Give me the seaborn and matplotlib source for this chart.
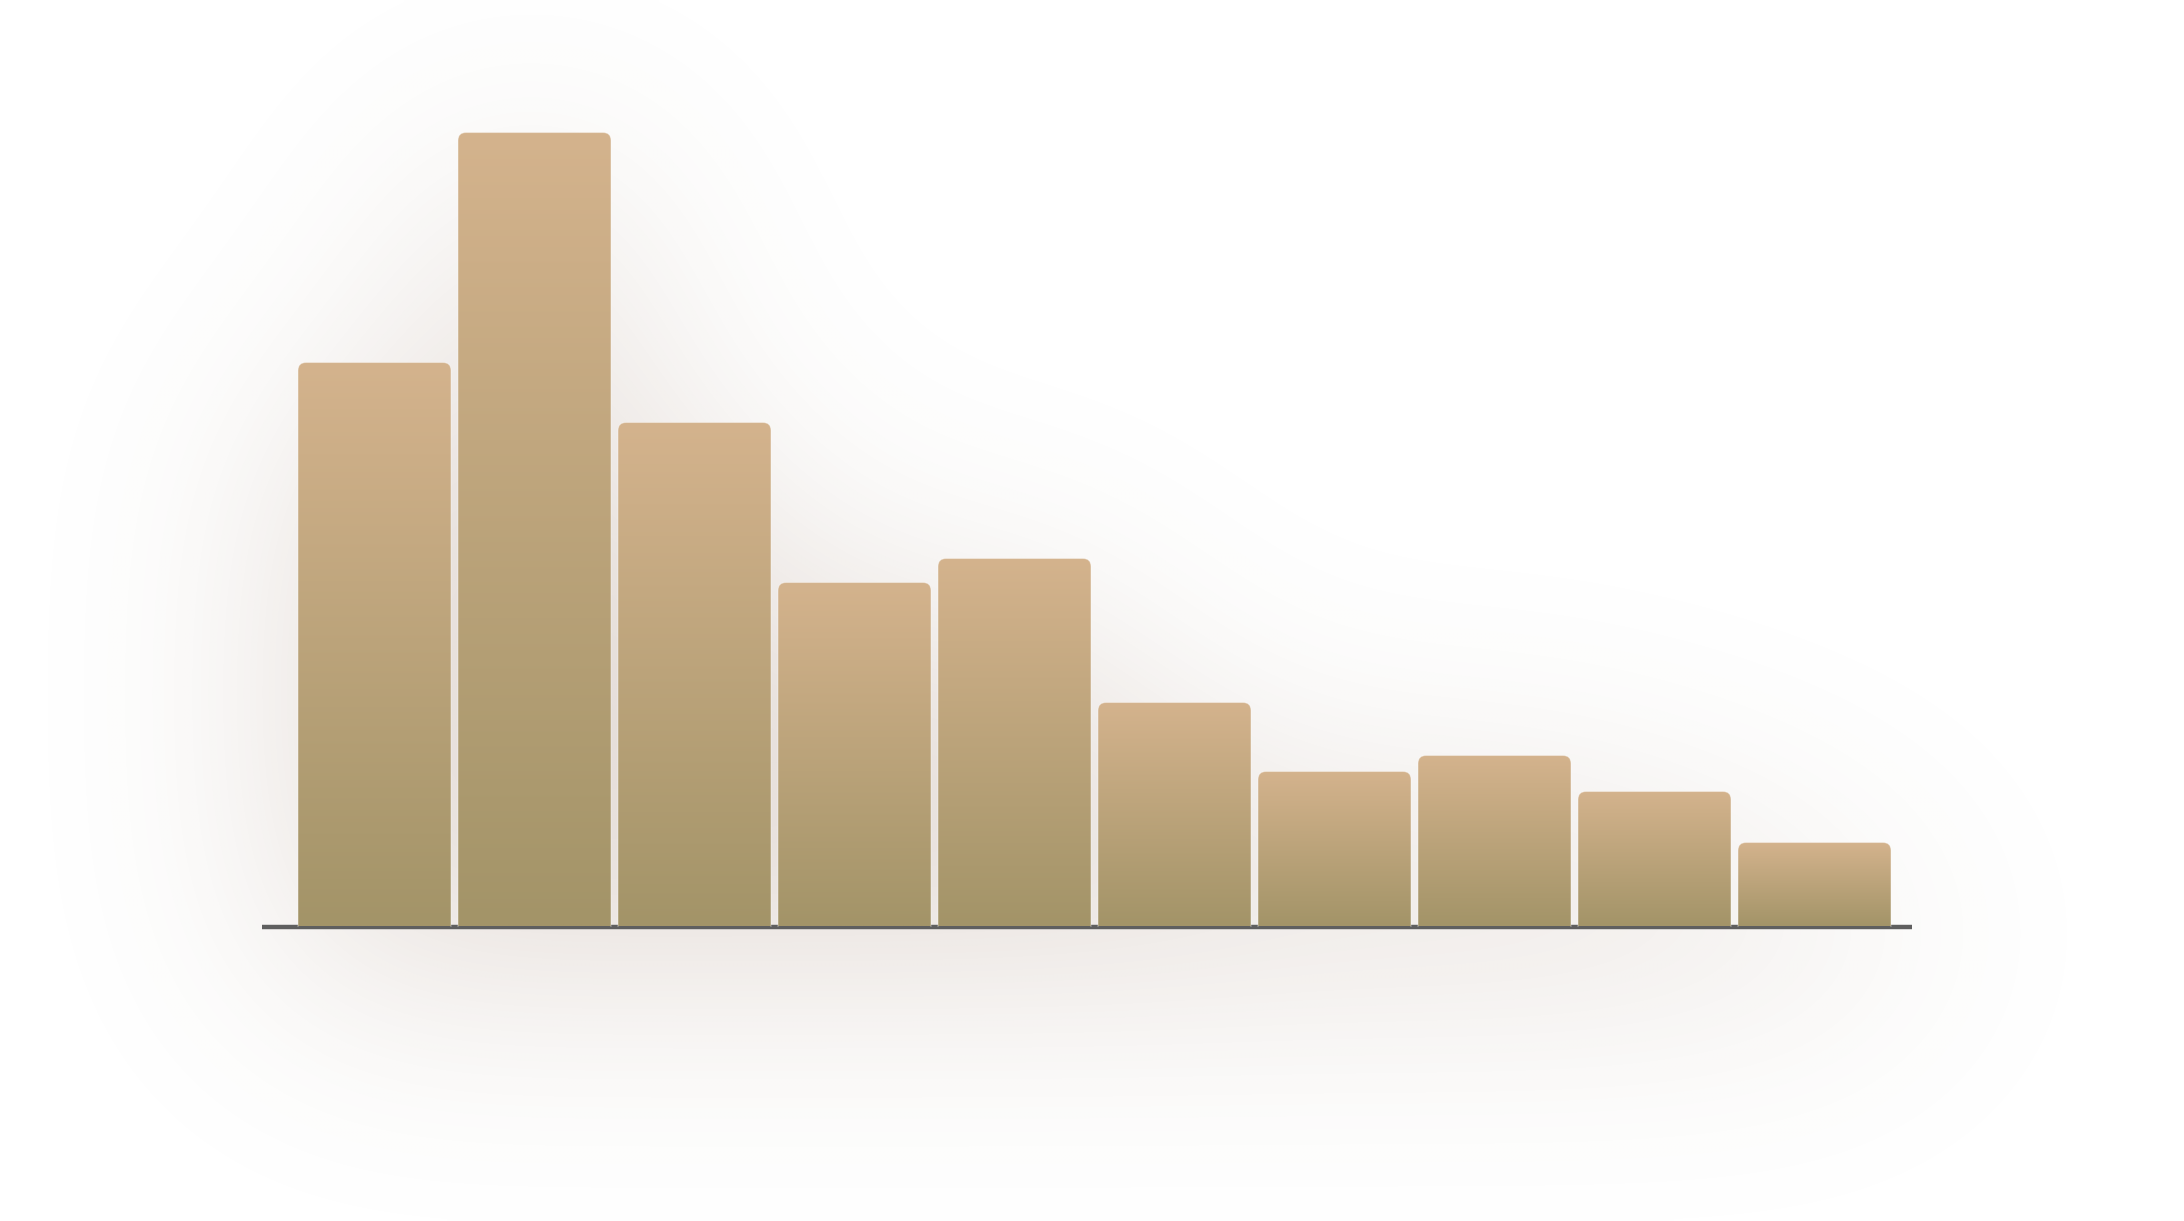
import numpy as np
import pandas as pd
import matplotlib
matplotlib.use("Agg")
import matplotlib.pyplot as plt
import seaborn as sns
from matplotlib.patches import FancyBboxPatch
from matplotlib.colors import to_rgb

# ---- data ----
bins = ["1", "2", "3", "4", "5", "6", "7", "8", "9", "10"]
values = [56.4, 79.4, 50.4, 34.4, 36.8, 22.4, 15.5, 17.1, 13.5, 8.4]

TOP_COLOR = "#D4B38D"
BOTTOM_COLOR = "#A39468"
AXIS_COLOR = "#5f5f5f"

W, H = 2184, 1221
sns.set_theme(style="white")
fig = plt.figure(figsize=(W / 100, H / 100), dpi=100, facecolor="white")

ax = fig.add_axes([262 / W, (H - 926.5) / H, (1912 - 262) / W, (926.5 - 100) / H])
df = pd.DataFrame({"bin": bins, "value": values})
sns.barplot(data=df, x="bin", y="value", order=bins, width=0.956,
            color=TOP_COLOR, saturation=1, ax=ax)

XLIM = (-0.7031, 9.6094)
ax.set_xlim(*XLIM)
ax.set_ylim(0, 82.65)
ax.set_xlabel("")
ax.set_ylabel("")
ax.set_xticks([])
ax.set_yticks([])
for s in ["top", "left", "right"]:
    ax.spines[s].set_visible(False)
ax.spines["bottom"].set_color(AXIS_COLOR)
ax.spines["bottom"].set_linewidth(3.2)
ax.spines["bottom"].set_capstyle("butt")
ax.spines["bottom"].set_zorder(2.5)
ax.patch.set_alpha(0)

top = np.array(to_rgb(TOP_COLOR))
bot = np.array(to_rgb(BOTTOM_COLOR))
t = np.linspace(0, 1, 256)[:, None, None]
grad = top * (1 - t) + bot * t
grad = np.repeat(grad, 2, axis=1)

rx = 8 / 160.0
aspect = 16.0
rects = []
for p in list(ax.patches):
    x, w, h = p.get_x(), p.get_width(), p.get_height()
    p.set_visible(False)
    rects.append((x, w, h))
    fb = FancyBboxPatch((x, -1.5), w, h + 1.5,
                        boxstyle=f"round,pad=0,rounding_size={rx}",
                        mutation_aspect=aspect, facecolor="none",
                        edgecolor=(1, 1, 1, 0.35), linewidth=0.8, zorder=3.2)
    ax.add_patch(fb)
    im = ax.imshow(grad, extent=(x, x + w, 0, h), origin="upper",
                   aspect="auto", interpolation="bilinear", zorder=3)
    im.set_clip_path(fb)

ax.set_xlim(*XLIM)
ax.set_ylim(0, 82.65)

# ---- soft shadow background derived from bar geometry ----
f = 4
gw, gh = int(np.ceil(W / f)), int(np.ceil(H / f))
mask = np.zeros((gh, gw))
offset = 55
for (x, w, h) in rects:
    (x0, y0), (x1, y1) = ax.transData.transform([(x, 0), (x + w, h)])
    c0, c1 = int(x0 / f), int(x1 / f)
    r0 = int((H - y1 + offset) / f)
    r1 = int((H - y0 + offset) / f)
    mask[max(r0, 0):min(r1, gh), max(c0, 0):min(c1, gw)] = 1.0

sigma = 120 / f
def gmat(n):
    i = np.arange(n)
    K = np.exp(-0.5 * ((i[:, None] - i[None, :]) / sigma) ** 2)
    return K / (sigma * np.sqrt(2 * np.pi))
blur = gmat(gh) @ mask @ gmat(gw).T
blur = blur / blur.max()
shadow_rgb = np.array([125, 85, 60]) / 255.0
rgba = np.zeros((gh, gw, 4))
rgba[..., :3] = shadow_rgb
rgba[..., 3] = 0.19 * blur

bg = fig.add_axes([0, 0, 1, 1])
bg.imshow(rgba, extent=(0, W, 0, H), origin="upper", aspect="auto",
          interpolation="bilinear")
bg.set_xlim(0, W)
bg.set_ylim(0, H)
bg.axis("off")
bg.set_zorder(0)
ax.set_zorder(1)

fig.savefig("out.png", dpi=100, facecolor="white")
